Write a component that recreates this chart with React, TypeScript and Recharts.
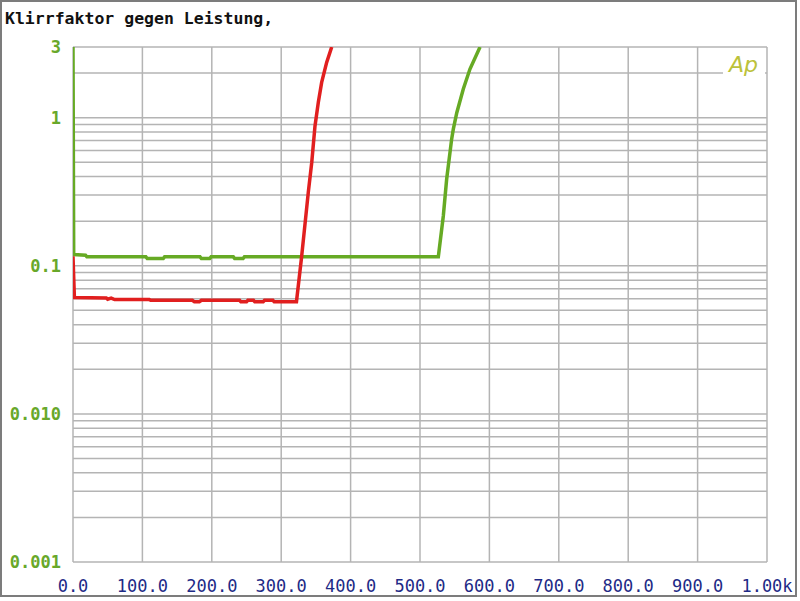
import React from "react"
import {
  LineChart,
  Line,
  XAxis,
  YAxis,
  CartesianGrid,
} from "recharts"

// Klirrfaktor (%) against output power (W)
const redPower = [0, 2, 48, 50, 55, 60, 110, 112, 172, 175, 182, 185, 240, 242, 250, 252, 260, 262, 274, 276, 288, 290, 322, 329.5, 339, 344, 348.7, 353.5, 358.3, 365.5, 372.8]
const redThd = [0.116, 0.061, 0.0607, 0.0595, 0.0605, 0.0591, 0.0591, 0.0585, 0.0585, 0.0571, 0.0571, 0.0585, 0.0585, 0.0571, 0.0571, 0.0585, 0.0585, 0.0571, 0.0571, 0.0585, 0.0585, 0.0571, 0.0571, 0.116, 0.312, 0.498, 0.88, 1.27, 1.73, 2.36, 3.0]

const greenPower = [0, 1, 18, 20, 105, 107, 130, 132, 183, 185, 197, 199, 231, 233, 245, 247, 526.4, 533.6, 538.4, 545.6, 548, 553, 562.4, 572, 586.5]
const greenThd = [3.0, 0.119, 0.118, 0.115, 0.115, 0.112, 0.112, 0.115, 0.115, 0.112, 0.112, 0.115, 0.115, 0.112, 0.112, 0.115, 0.115, 0.217, 0.384, 0.716, 0.836, 1.08, 1.56, 2.13, 3.0]

const xTicks = [0, 100, 200, 300, 400, 500, 600, 700, 800, 900, 1000]
const yGrid = [
  0.001, 0.002, 0.003, 0.004, 0.005, 0.006, 0.007, 0.008, 0.009,
  0.01, 0.02, 0.03, 0.04, 0.05, 0.06, 0.07, 0.08, 0.09,
  0.1, 0.2, 0.3, 0.4, 0.5, 0.6, 0.7, 0.8, 0.9,
  1, 2, 3,
]
const yLabels: Record<string, string> = { "0.001": "0.001", "0.01": "0.010", "0.1": "0.1", "1": "1", "3": "3" }

const toRows = (xs: number[], ys: number[]) => xs.map((x, i) => ({ x, y: ys[i] }))
const redData = toRows(redPower, redThd)
const greenData = toRows(greenPower, greenThd)

const fmtX = (v: number) => (v >= 1000 ? "1.00k" : v.toFixed(1))
const fmtY = (v: number) => yLabels[String(v)] ?? ""

export default function App() {
  return (
    <div style={{ position: "absolute", left: 0, top: 0, width: 800, height: 601, background: "#fff" }}>
      <div
        style={{
          position: "absolute", left: 0, top: 0, width: 797, height: 597,
          boxSizing: "border-box", border: "2px solid #7c7c7c",
        }}
      />
      <div
        style={{
          position: "absolute", left: 5, top: 8, fontFamily: "DejaVu Sans Mono",
          fontSize: 16.5, fontWeight: "bold", color: "#111", whiteSpace: "pre", lineHeight: "22px",
        }}
      >
        Klirrfaktor gegen Leistung,
      </div>
      <LineChart width={800} height={601} margin={{ top: 47, right: 33, bottom: 0, left: 0 }} style={{ position: "absolute", left: 0, top: 0 }}>
        <CartesianGrid stroke="#b4b4b4" strokeWidth={1.5} />
        <XAxis
          dataKey="x"
          type="number"
          domain={[0, 1000]}
          ticks={xTicks}
          tickFormatter={fmtX}
          height={39}
          axisLine={false}
          tickLine={false}
          tick={{ fill: "#1e2a86", fontFamily: "DejaVu Sans Mono", fontSize: 17 }}
          tickMargin={12}
          allowDataOverflow
        />
        <YAxis
          dataKey="y"
          type="number"
          scale="log"
          domain={[0.001, 3]}
          ticks={yGrid}
          tickFormatter={fmtY}
          width={73}
          axisLine={false}
          tickLine={false}
          interval={0}
          tick={{ fill: "#68a82a", fontFamily: "DejaVu Sans Mono", fontSize: 17, fontWeight: "bold" }}
          tickMargin={6}
          allowDataOverflow
        />
        <Line data={greenData} dataKey="y" type="linear" stroke="#66aa24" strokeWidth={3.5} dot={false} isAnimationActive={false} />
        <Line data={redData} dataKey="y" type="linear" stroke="#e11f1f" strokeWidth={3.5} dot={false} isAnimationActive={false} />
      </LineChart>
      <div
        style={{
          position: "absolute", left: 723, top: 52, width: 42, height: 26, background: "#fff",
          fontFamily: "DejaVu Sans", fontStyle: "italic", fontWeight: 300, fontSize: 22,
          color: "#bcc23a", lineHeight: "26px", paddingLeft: 6, boxSizing: "border-box",
        }}
      >
        Ap
      </div>
    </div>
  )
}
